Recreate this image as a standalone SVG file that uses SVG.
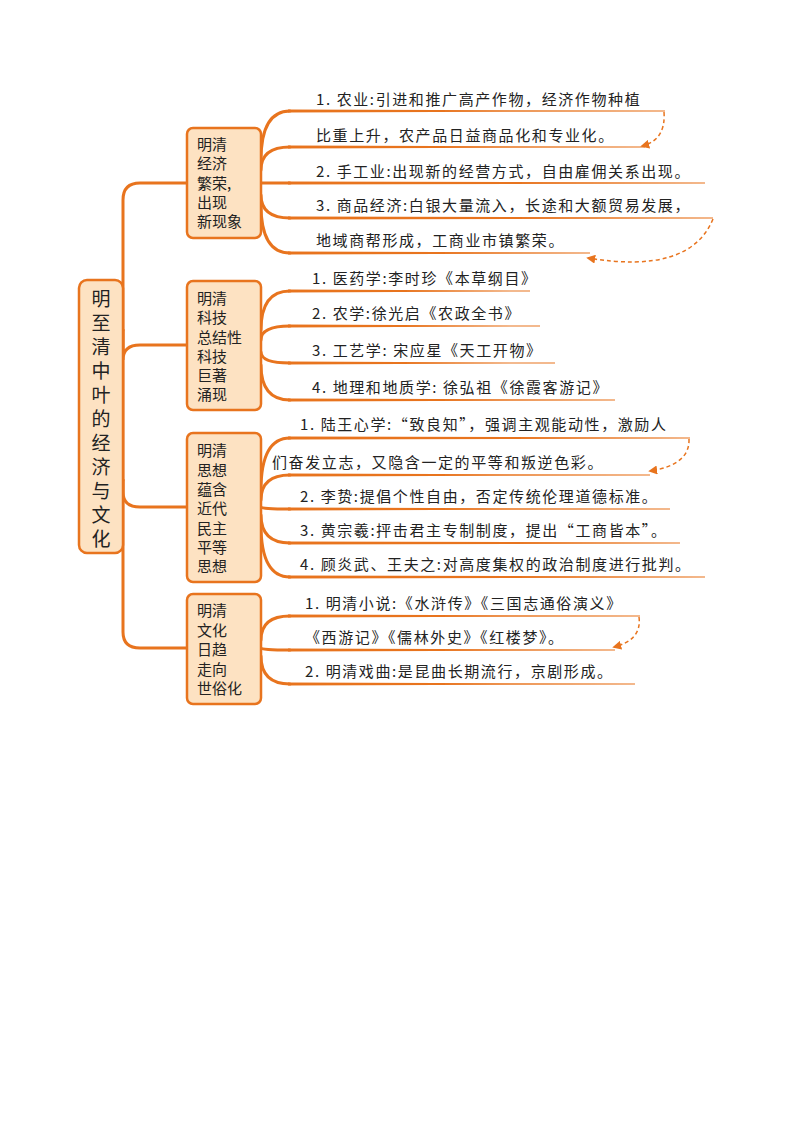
<svg xmlns="http://www.w3.org/2000/svg" width="794" height="1123" viewBox="0 0 794 1123">
<style>
.box{fill:#fde2c2;stroke:#e8741e;stroke-width:2.5}
.c{fill:none;stroke:#e8741e;stroke-width:3;stroke-linecap:round}
.u{fill:#e8741e}
.d{fill:none;stroke:#e8741e;stroke-width:1.5;stroke-dasharray:4 3}
text{font-family:"Noto Sans CJK SC","Noto Sans",sans-serif;font-size:15px;fill:#222}
.l{letter-spacing:1.6px}
.r{font-size:19px}
</style>
<defs><marker id="a" viewBox="0 0 10 10" refX="8" refY="5" markerWidth="6" markerHeight="6" orient="auto"><path d="M0,0L10,5L0,10z" fill="#e8741e"/></marker></defs>
<rect width="794" height="1123" fill="#fff"/>
<g id="connectors">
<path class="c" d="M123,330 V200 Q123,183 140,183 H187"/>
<path class="c" d="M123,330 V360 Q123,345 140,345 H187"/>
<path class="c" d="M123,480 V492 Q123,507 140,507 H187"/>
<path class="c" d="M123,480 V632 Q123,648 140,648 H187"/>
<path class="c" d="M123,330 V480"/>
<path class="c" d="M261,160 Q261,111 290,111"/>
<path class="c" d="M261,170 Q261,147 290,147"/>
<path class="c" d="M261,183 H290"/>
<path class="c" d="M261,195 Q261,218 290,218"/>
<path class="c" d="M261,205 Q261,253 290,253"/>
<path class="c" d="M261,330 Q261,291 290,291"/>
<path class="c" d="M261,340 Q261,326 290,326"/>
<path class="c" d="M261,352 Q261,363 290,363"/>
<path class="c" d="M261,365 Q261,400 290,400"/>
<path class="c" d="M261,490 Q261,438 290,438"/>
<path class="c" d="M261,500 Q261,475 290,475"/>
<path class="c" d="M261,507 Q261,509 290,509"/>
<path class="c" d="M261,515 Q261,543 290,543"/>
<path class="c" d="M261,525 Q261,577 290,577"/>
<path class="c" d="M261,640 Q261,616 290,616"/>
<path class="c" d="M261,648 Q261,650 290,650"/>
<path class="c" d="M261,656 Q261,684 290,684"/>
<path class="u" d="M288,109.5 L665,110.6 V111.4 L288,112.5z"/>
<path class="u" d="M288,145.5 L645,146.6 V147.4 L288,148.5z"/>
<path class="u" d="M288,181.5 L705,182.6 V183.4 L288,184.5z"/>
<path class="u" d="M288,216.5 L713,217.6 V218.4 L288,219.5z"/>
<path class="u" d="M288,251.5 L590,252.6 V253.4 L288,254.5z"/>
<path class="u" d="M288,289.5 L530,290.6 V291.4 L288,292.5z"/>
<path class="u" d="M288,324.5 L540,325.6 V326.4 L288,327.5z"/>
<path class="u" d="M288,361.5 L555,362.6 V363.4 L288,364.5z"/>
<path class="u" d="M288,398.5 L615,399.6 V400.4 L288,401.5z"/>
<path class="u" d="M288,436.5 L690,437.6 V438.4 L288,439.5z"/>
<path class="u" d="M288,473.5 L650,474.6 V475.4 L288,476.5z"/>
<path class="u" d="M288,507.5 L670,508.6 V509.4 L288,510.5z"/>
<path class="u" d="M288,541.5 L680,542.6 V543.4 L288,544.5z"/>
<path class="u" d="M288,575.5 L705,576.6 V577.4 L288,578.5z"/>
<path class="u" d="M288,614.5 L640,615.6 V616.4 L288,617.5z"/>
<path class="u" d="M288,648.5 L615,649.6 V650.4 L288,651.5z"/>
<path class="u" d="M288,682.5 L635,683.6 V684.4 L288,685.5z"/>
<path class="d" marker-end="url(#a)" d="M664,112 Q666,140 642,146"/>
<path class="d" marker-end="url(#a)" d="M713,219 Q690,275 588,258"/>
<path class="d" marker-end="url(#a)" d="M689,439 Q690,465 650,471"/>
<path class="d" marker-end="url(#a)" d="M639,617 Q642,640 614,647"/>
</g>
<g id="root"><rect class="box" x="79" y="280" width="44" height="273" rx="8"/>
<text class="r" x="101" y="306" text-anchor="middle">明</text><text class="r" x="101" y="330" text-anchor="middle">至</text><text class="r" x="101" y="354" text-anchor="middle">清</text><text class="r" x="101" y="378" text-anchor="middle">中</text><text class="r" x="101" y="402" text-anchor="middle">叶</text><text class="r" x="101" y="426" text-anchor="middle">的</text><text class="r" x="101" y="450" text-anchor="middle">经</text><text class="r" x="101" y="474" text-anchor="middle">济</text><text class="r" x="101" y="498" text-anchor="middle">与</text><text class="r" x="101" y="522" text-anchor="middle">文</text><text class="r" x="101" y="546" text-anchor="middle">化</text></g>
<g id="b1"><rect class="box" x="187" y="128" width="74" height="110" rx="6"/>
<text><tspan x="197" y="150">明清</tspan><tspan x="197" y="169">经济</tspan><tspan x="197" y="189">繁荣,</tspan><tspan x="197" y="208">出现</tspan><tspan x="197" y="227">新现象</tspan></text></g>
<g id="b2"><rect class="box" x="187" y="281" width="74" height="129" rx="6"/>
<text><tspan x="197" y="304">明清</tspan><tspan x="197" y="323">科技</tspan><tspan x="197" y="343">总结性</tspan><tspan x="197" y="362">科技</tspan><tspan x="197" y="381">巨著</tspan><tspan x="197" y="400">涌现</tspan></text></g>
<g id="b3"><rect class="box" x="187" y="433" width="74" height="149" rx="6"/>
<text><tspan x="197" y="456">明清</tspan><tspan x="197" y="476">思想</tspan><tspan x="197" y="495">蕴含</tspan><tspan x="197" y="514">近代</tspan><tspan x="197" y="534">民主</tspan><tspan x="197" y="553">平等</tspan><tspan x="197" y="572">思想</tspan></text></g>
<g id="b4"><rect class="box" x="187" y="594" width="74" height="110" rx="6"/>
<text><tspan x="197" y="616">明清</tspan><tspan x="197" y="636">文化</tspan><tspan x="197" y="655">日趋</tspan><tspan x="197" y="675">走向</tspan><tspan x="197" y="694">世俗化</tspan></text></g>
<g id="leaves" class="l">
<text class="l" x="316" y="105">1. 农业:引进和推广高产作物，经济作物种植</text>
<text class="l" x="316" y="141">比重上升，农产品日益商品化和专业化。</text>
<text class="l" x="316" y="177">2. 手工业:出现新的经营方式，自由雇佣关系出现。</text>
<text class="l" x="316" y="211">3. 商品经济:白银大量流入，长途和大额贸易发展，</text>
<text class="l" x="316" y="246">地域商帮形成，工商业市镇繁荣。</text>
<text class="l" x="312" y="284">1. 医药学:李时珍《本草纲目》</text>
<text class="l" x="312" y="319">2. 农学:徐光启《农政全书》</text>
<text class="l" x="312" y="356">3. 工艺学: 宋应星《天工开物》</text>
<text class="l" x="312" y="393">4. 地理和地质学: 徐弘祖《徐霞客游记》</text>
<text class="l" x="300" y="430">1. 陆王心学:“致良知”，强调主观能动性，激励人</text>
<text class="l" x="272" y="468">们奋发立志，又隐含一定的平等和叛逆色彩。</text>
<text class="l" x="300" y="502">2. 李贽:提倡个性自由，否定传统伦理道德标准。</text>
<text class="l" x="300" y="536">3. 黄宗羲:抨击君主专制制度，提出“工商皆本”。</text>
<text class="l" x="300" y="570">4. 顾炎武、王夫之:对高度集权的政治制度进行批判。</text>
<text class="l" x="305" y="609">1. 明清小说:《水浒传》《三国志通俗演义》</text>
<text class="l" x="305" y="643">《西游记》《儒林外史》《红楼梦》。</text>
<text class="l" x="305" y="677">2. 明清戏曲:是昆曲长期流行，京剧形成。</text>
</g>
</svg>
